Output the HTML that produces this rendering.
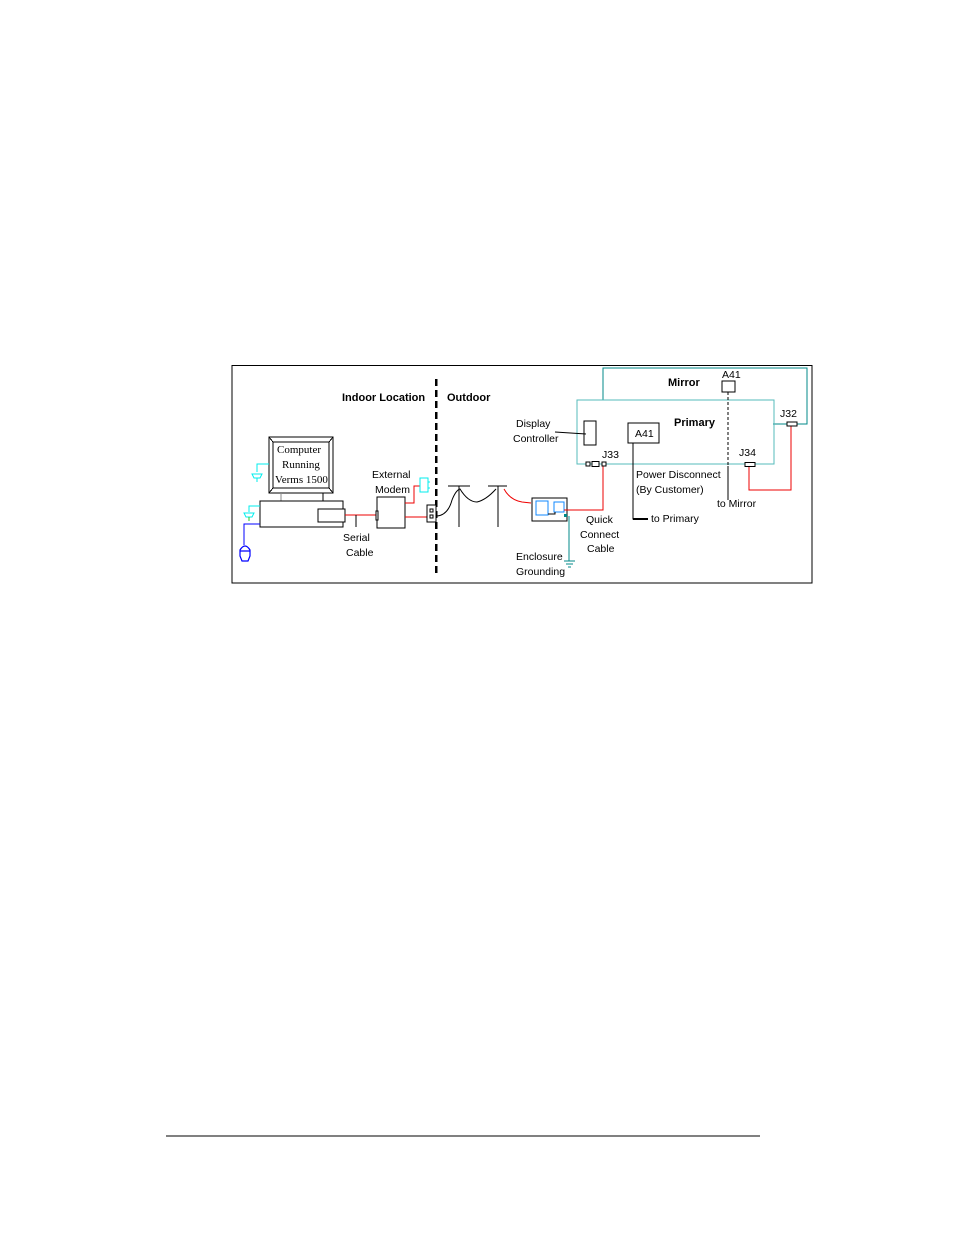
<!DOCTYPE html>
<html><head><meta charset="utf-8"><style>
html,body{margin:0;padding:0;background:#fff;}
svg{display:block;}
text{font-family:"Liberation Sans",sans-serif;font-size:10.5px;fill:#000;}
.b{font-weight:bold;font-size:11px;}
.s{font-family:"Liberation Serif",serif;font-size:11px;}
line,rect{shape-rendering:crispEdges;}
.c{shape-rendering:crispEdges;}
</style></head><body>
<svg width="954" height="1235" viewBox="0 0 954 1235" xmlns="http://www.w3.org/2000/svg">
<rect x="232" y="365.5" width="580" height="217.5" fill="none" stroke="#000" stroke-width="1"/>
<line x1="436" y1="379" x2="436" y2="574" stroke="#000" stroke-width="2.5" stroke-dasharray="7,4"/>
<text class="b" x="342" y="401">Indoor Location</text>
<text class="b" x="447" y="401">Outdoor</text>
<!-- computer -->
<rect x="269" y="437" width="64" height="56" fill="#fff" stroke="#000"/>
<rect x="273" y="442" width="56" height="46" fill="#fff" stroke="#000"/>
<line x1="269" y1="437" x2="273" y2="442" stroke="#000"/><line x1="333" y1="437" x2="329" y2="442" stroke="#000"/>
<line x1="269" y1="493" x2="273" y2="488" stroke="#000"/><line x1="333" y1="493" x2="329" y2="488" stroke="#000"/>
<text class="s" x="277" y="453">Computer</text>
<text class="s" x="282" y="468">Running</text>
<text class="s" x="275" y="483">Verms 1500</text>
<line x1="281" y1="493" x2="281" y2="501" stroke="#888"/><line x1="323" y1="493" x2="323" y2="501" stroke="#000"/>
<rect x="260" y="501" width="83" height="26" fill="#fff" stroke="#000"/>
<rect x="318" y="509" width="27" height="13" fill="#fff" stroke="#000"/>
<!-- plugs -->
<path class="c" d="M269 464 H257 V472" fill="none" stroke="#0ee"/>
<path d="M252 474 H262 L260 478 H254 Z M257 478 V482" fill="none" stroke="#0ee"/>
<path class="c" d="M260 506 H249 V512" fill="none" stroke="#0ee"/>
<path d="M244 513 H254 L252 517 H246 Z" fill="none" stroke="#0ee"/>
<line x1="249" y1="517" x2="249" y2="521" stroke="#2c2"/>
<path class="c" d="M260 524 H244 V545" fill="none" stroke="#00f" stroke-width="1.3"/>
<path d="M240 550 Q245 542 250 550 V556 L248 561 H242 L240 556 Z M240 551 H250" fill="none" stroke="#00f" stroke-width="1.2"/>
<!-- serial -->
<line x1="345" y1="515" x2="376" y2="515" stroke="#e00" stroke-width="1.3"/>
<line x1="356" y1="515" x2="356" y2="527" stroke="#000"/>
<text x="343" y="541">Serial</text>
<text x="346" y="556">Cable</text>
<rect x="377" y="497" width="28" height="31" fill="#fff" stroke="#000"/>
<rect x="376" y="511" width="2" height="9" fill="#fff" stroke="#000"/>
<text x="372" y="478">External</text>
<text x="375" y="493">Modem</text>
<path class="c" d="M405 503 H414 V486 H420" fill="none" stroke="#e00" stroke-width="1.3"/>
<path class="c" d="M420 478 H428 V492 H420 Z M428 482 H430 M428 488 H430" fill="none" stroke="#0ee"/>
<line x1="405" y1="517" x2="428" y2="517" stroke="#e00" stroke-width="1.3"/>
<rect x="427" y="505" width="9" height="17" fill="#fff" stroke="#000"/>
<rect x="430" y="509" width="3" height="3" fill="none" stroke="#000" stroke-width="0.8"/>
<rect x="430" y="515" width="3" height="3" fill="none" stroke="#000" stroke-width="0.8"/>
<!-- poles -->
<line x1="448" y1="486" x2="470" y2="486" stroke="#000" stroke-width="1.3"/>
<line x1="459" y1="486" x2="459" y2="527" stroke="#000"/>
<line x1="488" y1="486" x2="507" y2="486" stroke="#000" stroke-width="1.3"/>
<line x1="498" y1="486" x2="498" y2="527" stroke="#000"/>
<path d="M437 516 Q448 515 452 500 Q456 490 460 489 Q468 502 477 502 Q486 500 496 489" fill="none" stroke="#000"/>
<path d="M504 489 Q510 500 522 502 L531 503" fill="none" stroke="#e00"/>
<!-- enclosure -->
<rect x="532" y="498" width="35" height="23" fill="#fff" stroke="#000"/>
<rect x="536" y="501" width="12" height="14" fill="none" stroke="#18f" stroke-width="1.2"/>
<rect x="554" y="502" width="10" height="10" fill="none" stroke="#18f" stroke-width="1.2"/>
<path class="c" d="M548 514 H555 V512" fill="none" stroke="#000"/>
<path class="c" d="M564 510 H603 V466" fill="none" stroke="#e00" stroke-width="1.2"/>
<path class="c" d="M569 516 V561" fill="none" stroke="#088" stroke-width="1.2"/>
<rect x="564" y="514" width="3" height="3" fill="#088"/>
<path class="c" d="M564 561 H575 M566 564 H573 M568 567 H571" stroke="#088"/>
<text x="586" y="523">Quick</text>
<text x="580" y="538">Connect</text>
<text x="587" y="552">Cable</text>
<text x="516" y="560">Enclosure</text>
<text x="516" y="575">Grounding</text>
<!-- mirror/primary -->
<path class="c" d="M603 400 V368 H807 V424 H773" fill="none" stroke="#088" stroke-width="1.2"/>
<rect x="577" y="400" width="197" height="64" fill="none" stroke="#5bb" stroke-width="1.2"/>
<text class="b" x="668" y="386">Mirror</text>
<text class="b" x="674" y="426">Primary</text>
<text x="722" y="378">A41</text>
<rect x="722" y="381" width="13" height="11" fill="#fff" stroke="#000"/>
<line x1="728" y1="392" x2="728" y2="466" stroke="#000" stroke-dasharray="3,2"/>
<line x1="728" y1="466" x2="728" y2="500" stroke="#000"/>
<text x="717" y="507">to Mirror</text>
<rect x="584" y="421" width="12" height="24" fill="#fff" stroke="#000"/>
<path d="M555 432 L586 434" stroke="#000"/>
<text x="516" y="427">Display</text>
<text x="513" y="442">Controller</text>
<rect x="628" y="423" width="31" height="20" fill="#fff" stroke="#000"/>
<text x="635" y="437">A41</text>
<path class="c" d="M633 443 V519 H648" fill="none" stroke="#000" stroke-width="1.2"/>
<line x1="633" y1="519" x2="648" y2="519" stroke="#000" stroke-width="2"/>
<text x="651" y="522">to Primary</text>
<text x="636" y="478">Power Disconnect</text>
<text x="636" y="493">(By Customer)</text>
<rect x="586" y="462" width="4" height="4" fill="#fff" stroke="#000" stroke-width="0.8"/>
<rect x="592" y="461.5" width="7" height="5" fill="#fff" stroke="#000" stroke-width="0.8"/>
<rect x="602" y="462" width="4" height="4" fill="#fff" stroke="#000" stroke-width="0.8"/>
<text x="602" y="458">J33</text>
<text x="739" y="456">J34</text>
<rect x="745" y="462.5" width="10" height="4" fill="#fff" stroke="#000" stroke-width="0.8"/>
<path class="c" d="M749 467 V490 H791 V426" fill="none" stroke="#e00" stroke-width="1.2"/>
<text x="780" y="417">J32</text>
<rect x="787" y="422" width="10" height="4" fill="#fff" stroke="#000" stroke-width="0.8"/>
<!-- footer -->
<line x1="166" y1="1136" x2="760" y2="1136" stroke="#000" stroke-width="1"/>
</svg>
</body></html>
